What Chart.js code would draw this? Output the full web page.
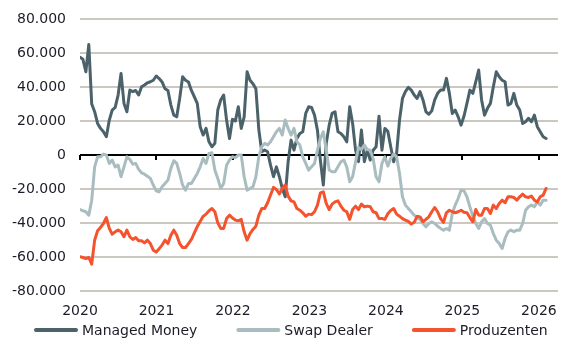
<!DOCTYPE html>
<html>
<head>
<meta charset="utf-8">
<script src="https://cdn.jsdelivr.net/npm/chart.js@4.4.1/dist/chart.umd.min.js"></script>
<style>
  html, body { margin: 0; padding: 0; background: #fff; }
  canvas { display: block; }
</style>
</head>
<body>
<canvas id="cotChart" width="588" height="351"></canvas>
<script>
// Netto-Positionen, Tsd. Kontrakte, alle 2 Wochen ab Anfang 2020
const startYear = 2020;
const stepDays = 14;
const yearTicks = [2020, 2021, 2022, 2023, 2024, 2025, 2026];
const valueTicks = [-80000, -60000, -40000, -20000, 0, 20000, 40000, 60000, 80000];
const seriesNames = ['Managed Money', 'Swap Dealer', 'Produzenten'];

const managedMoney = [
  57.5, 56.3, 49, 65, 30, 25.5, 18.6, 15.7, 13.7, 10.8,
  20.6, 26.5, 28, 35.3, 48, 30.4, 25.5, 38.2, 37.3, 38,
  35.3, 40.2, 41.2, 42.5, 43.1, 44, 46.5, 45, 43, 39,
  38, 29.4, 23.5, 22.5, 33.3, 46, 44, 43, 38, 34.3,
  30.4, 16.7, 11.8, 15.7, 7.8, 4.9, 6.9, 26.5, 32.4, 35.3,
  20.6, 9.8, 21, 20, 28.4, 15.7, 22.5, 49, 44, 42,
  39, 15, 2, 3, 2, -5.9, -12.7, -6.9, -12.7, -19.6,
  -24.5, -3.9, 8.8, 2.9, 9.8, 12.7, 13.7, 24.5, 28.4, 28,
  23.5, 14.7, -2.9, -17.6, 6.9, 17.6, 24.5, 25.5, 13.7, 12.7,
  10.8, 7.8, 28.4, 18.6, 2.9, -3.9, 14.7, -3.9, 2.9, -2.9,
  2.9, 4.9, 22.9, 2.9, 15.7, 14, 4.9, -3.9, 1, 20.6,
  33.3, 37.3, 39.8, 38.2, 35.3, 33.3, 37.3, 32.4, 25.5, 24,
  26, 32.4, 36.3, 38.2, 38.2, 45.1, 36.3, 24.5, 26.5, 22.5,
  17.6, 23, 30.4, 38.2, 36.3, 43.1, 50, 32.4, 23.5, 27.5,
  30.4, 40.2, 49, 46, 44, 43.1, 29.4, 30.4, 36.3, 29.4,
  26.5, 18.6, 19.6, 21.6, 19.6, 23.5, 16.7, 13.7, 10.8, 9.8
];

const swapDealer = [
  -32, -32.7, -33.3, -35.3, -26.5, -6.9, -1, -1, 0.6, 0,
  -4.9, -2.9, -6.9, -5.9, -12.7, -6.9, -1, -2.5, -5.3, -4.9,
  -8.4, -10.4, -11.2, -12.4, -13.7, -17.6, -21, -21.6, -18.6, -16.7,
  -14.7, -7.8, -3.3, -4.9, -10.8, -17.6, -20.6, -16.7, -16.7, -13.7,
  -10.8, -6.9, -2, -4.9, 1, 1.4, -8.8, -13.7, -19.6, -16.7,
  -5.9, -2.9, -1, -1.5, 0, 0, -12.7, -20.6, -19.6, -18.6,
  -12.7, -1, 4.9, 6.9, 5.9, 7.8, 10.8, 13.7, 15.7, 11.8,
  20.6, 15.7, 11.8, 15.7, 7.8, 5.9, -1, -4.9, -8.8, -6.9,
  -4.9, 2.9, 9.8, 13.7, 2.9, -8.8, -9.8, -9.8, -6.9, -3.9,
  -2.9, -6.9, -15.7, -12.7, -3.9, 4.5, 3.3, 5.9, 3.3, 2.9,
  -2, -12.7, -15.7, -4.9, -1, -6.5, -2, 0.6, -1, -10.8,
  -24.5, -29.4, -31.4, -33.3, -35.3, -36.7, -37.8, -40.2, -42.2, -40.2,
  -39.2, -40.2, -41.8, -43.1, -44.1, -43.1, -44.1, -34.3, -29.4, -25.5,
  -20.6, -21, -24.5, -30.4, -35.9, -40.2, -43.1, -39.2, -37.3, -40.2,
  -41.2, -46.1, -50, -52, -54.9, -49, -45.1, -44.1, -45.1, -44.1,
  -44.1, -40.2, -32.4, -30.4, -29.4, -30.4, -27.5, -29.4, -26.5, -26.5
];

const produzenten = [
  -59.8, -60.2, -60.8, -60.2, -64.1, -50, -44.5, -42.5, -40.2, -36.7,
  -43.1, -46.5, -45.1, -44.1, -45.1, -48, -44.1, -48, -49.6, -48.4,
  -50.4, -50.4, -51.6, -50, -52, -55.9, -57, -55, -52.9, -50,
  -52, -47.1, -44.1, -47.1, -52, -54.3, -54.3, -52, -49.6, -45.7,
  -42, -39, -36, -34.7, -32.7, -31.4, -33.3, -39.8, -43.1, -43.1,
  -37.3, -35.3, -37, -38.2, -38.6, -37.8, -45.1, -50, -46.1, -43.7,
  -41.8, -35.3, -31.4, -31.4, -28, -23.5, -19, -20.2, -22.9, -19.6,
  -17.6, -24.1, -26.9, -27.5, -31.4, -32.4, -33.9, -35.9, -34.7, -35,
  -33.3, -29.4, -22.2, -21.6, -28.4, -32, -28.8, -27.5, -26.9, -30,
  -32.4, -33.3, -37.8, -32, -30, -32, -28.8, -30.4, -30, -30.4,
  -33.3, -33.9, -37.3, -37.3, -37.8, -34.5, -32.5, -31.4, -34.7, -35.9,
  -37.3, -38.2, -39, -40.5, -39.5, -36, -36.3, -39.2, -37.8, -36.3,
  -33.3, -30.8, -33.3, -37.3, -39.5, -33.9, -32.4, -33.3, -33.9, -33.3,
  -32.4, -33.6, -33.9, -36.7, -39.2, -32, -35.3, -35.3, -31.4, -31.4,
  -34.3, -29.4, -31.4, -28.4, -26.5, -28, -24.5, -24.5, -24.9, -26.5,
  -24.5, -22.9, -24.5, -24.9, -24.1, -26.5, -27.5, -24.5, -23.5, -19.6
];

const colors = ['#4b626a', '#a9bdc1', '#f4532d'];
const textColor = '#1c1c28';
const fontFamily = '"DejaVu Sans", sans-serif';

function toPoints(values) {
  return values.map((v, i) => ({ x: startYear + i * stepDays / 365.25, y: v * 1000 }));
}

function fmtDe(v) {
  const s = Math.abs(v).toString().replace(/\B(?=(\d{3})+(?!\d))/g, '.');
  return (v < 0 ? '-' : '') + s;
}

// kleine Striche an der Nulllinie fuer die Jahre
const zeroTicks = {
  id: 'zeroTicks',
  beforeDatasetsDraw(chart) {
    const { ctx, scales: { x, y } } = chart;
    const y0 = Math.round(y.getPixelForValue(0));
    ctx.save();
    ctx.strokeStyle = '#000';
    ctx.lineWidth = 2;
    yearTicks.forEach(v => {
      const px = Math.round(x.getPixelForValue(v));
      ctx.beginPath();
      ctx.moveTo(px, y0);
      ctx.lineTo(px, y0 + 5);
      ctx.stroke();
    });
    ctx.restore();
  }
};

// Legende unten, wie im Original
const bottomLegend = {
  id: 'bottomLegend',
  afterDraw(chart) {
    const ctx = chart.ctx;
    ctx.save();
    ctx.font = '14px ' + fontFamily;
    ctx.textBaseline = 'middle';
    let x = 34;
    const y = 331;
    chart.data.datasets.forEach(ds => {
      ctx.strokeStyle = ds.borderColor;
      ctx.lineWidth = 4;
      ctx.lineCap = 'round';
      ctx.beginPath();
      ctx.moveTo(x + 2, y - 1);
      ctx.lineTo(x + 42, y - 1);
      ctx.stroke();
      ctx.fillStyle = textColor;
      ctx.fillText(ds.label, x + 48, y);
      x += 48 + ctx.measureText(ds.label).width + 39;
    });
    ctx.restore();
  }
};

const ctx = document.getElementById('cotChart').getContext('2d');

const cotChart = new Chart(ctx, {
  type: 'line',
  data: {
    datasets: [managedMoney, swapDealer, produzenten].map((vals, k) => ({
      label: seriesNames[k],
      data: toPoints(vals),
      borderColor: colors[k],
      backgroundColor: colors[k],
      borderWidth: 3,
      pointRadius: 0,
      tension: 0,
      fill: false,
      borderJoinStyle: 'round',
      borderCapStyle: 'round',
      order: 3 - k
    }))
  },
  options: {
    responsive: false,
    animation: false,
    events: [],
    layout: { padding: { top: 19, right: 30, bottom: 19, left: 0 } },
    plugins: {
      legend: { display: false },
      tooltip: { enabled: false }
    },
    scales: {
      x: {
        type: 'linear',
        min: 2020,
        max: 2026.25,
        afterBuildTicks: s => { s.ticks = yearTicks.map(v => ({ value: v })); },
        grid: { display: false, drawTicks: false },
        border: { display: false },
        ticks: {
          padding: 12,
          maxRotation: 0,
          autoSkip: false,
          color: textColor,
          font: { family: fontFamily, size: 14 },
          callback: v => String(v)
        }
      },
      y: {
        min: -80000,
        max: 80000,
        afterBuildTicks: s => { s.ticks = valueTicks.map(v => ({ value: v })); },
        afterFit: s => { s.width = 80; },
        border: { display: false },
        grid: {
          drawTicks: true,
          tickLength: 14,
          tickColor: 'rgba(0,0,0,0)',
          color: c => (c.tick && c.tick.value === 0) ? '#000000' : '#cbc8c2',
          lineWidth: 2
        },
        ticks: {
          padding: 0,
          color: textColor,
          font: { family: fontFamily, size: 14 },
          callback: v => fmtDe(v)
        }
      }
    }
  },
  plugins: [zeroTicks, bottomLegend]
});
</script>
</body>
</html>
